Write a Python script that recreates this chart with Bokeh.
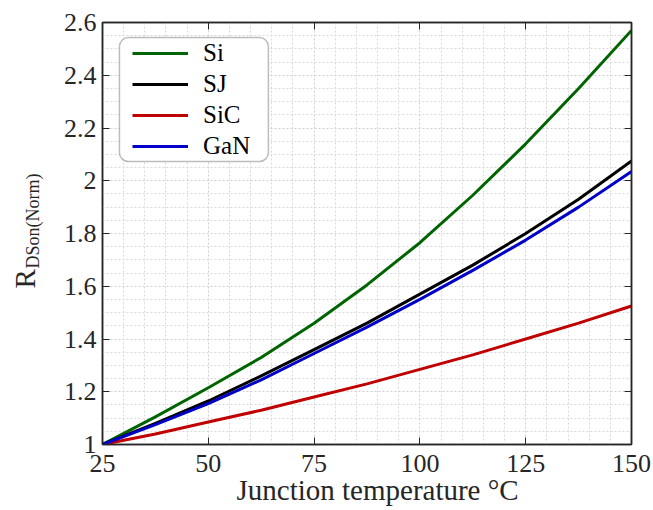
from bokeh.embed import file_html
from bokeh.models import (BoxAnnotation, CustomJSTickFormatter, FixedTicker, Legend,
                          LegendItem, LinearAxis, Range1d, Title)
from bokeh.plotting import figure
from bokeh.resources import INLINE

# Normalised on-resistance versus junction temperature
temperature_c = [25, 37.5, 50, 62.5, 75, 87.5, 100, 112.5, 125, 137.5, 150]
r_si = [1.00, 1.105, 1.215, 1.33, 1.46, 1.605, 1.765, 1.945, 2.14, 2.35, 2.57]
r_sj = [1.00, 1.08, 1.165, 1.26, 1.36, 1.46, 1.57, 1.68, 1.80, 1.93, 2.075]
r_sic = [1.00, 1.04, 1.085, 1.13, 1.18, 1.23, 1.285, 1.34, 1.40, 1.46, 1.525]
r_gan = [1.00, 1.075, 1.155, 1.245, 1.345, 1.445, 1.55, 1.66, 1.775, 1.90, 2.035]

series_names = ["Si", "SJ", "SiC", "GaN"]
series_colors = ["#006400", "#000000", "#c00000", "#0000c8"]

x_ticks = [25, 50, 75, 100, 125, 150]
x_minor_ticks = [30, 35, 40, 45, 55, 60, 65, 70, 80, 85, 90, 95,
                 105, 110, 115, 120, 130, 135, 140, 145]
y_ticks = [1.0, 1.2, 1.4, 1.6, 1.8, 2.0, 2.2, 2.4, 2.6]
y_minor_ticks = [1.05, 1.1, 1.15, 1.25, 1.3, 1.35, 1.45, 1.5, 1.55, 1.65, 1.7, 1.75,
                 1.85, 1.9, 1.95, 2.05, 2.1, 2.15, 2.25, 2.3, 2.35, 2.45, 2.5, 2.55]

FONT = "Liberation Serif"
INK = "#262626"

p = figure(width=653, height=510, output_backend="svg", toolbar_location=None,
           x_range=Range1d(25, 150), y_range=Range1d(1, 2.6),
           min_border_left=102, min_border_right=22,
           min_border_top=22, min_border_bottom=66,
           background_fill_color="white", border_fill_color="white")

bottom_axis = p.below[0]
left_axis = p.left[0]

x_ticker = FixedTicker(ticks=x_ticks, minor_ticks=x_minor_ticks)
y_ticker = FixedTicker(ticks=y_ticks, minor_ticks=y_minor_ticks)
bottom_axis.ticker = x_ticker
left_axis.ticker = y_ticker
left_axis.formatter = CustomJSTickFormatter(code="return String(Number(tick.toFixed(2)));")

# mirrored, unlabeled tick axes on top and right for a boxed frame
blank = CustomJSTickFormatter(code="return '';")
top_axis = LinearAxis(ticker=x_ticker, formatter=blank, major_label_text_font_size="1px")
right_axis = LinearAxis(ticker=y_ticker, formatter=blank, major_label_text_font_size="1px")
p.add_layout(top_axis, "above")
p.add_layout(right_axis, "right")

for ax in [bottom_axis, left_axis, top_axis, right_axis]:
    ax.major_tick_in = 7
    ax.major_tick_out = 0
    ax.minor_tick_in = 0
    ax.minor_tick_out = 0
    ax.axis_line_color = INK
    ax.axis_line_width = 1.5
    ax.major_tick_line_color = INK
    ax.major_tick_line_width = 1
    ax.major_label_text_font = FONT
    ax.major_label_text_color = INK

bottom_axis.major_label_text_font_size = "26px"
bottom_axis.major_label_standoff = 10
left_axis.major_label_text_font_size = "26px"
left_axis.major_label_standoff = 6
top_axis.major_label_standoff = 0
right_axis.major_label_standoff = 0

p.outline_line_color = INK
p.outline_line_width = 1.5

p.grid.grid_line_color = "#cfcfcf"
p.grid.grid_line_dash = "2 2"
p.grid.grid_line_width = 1
p.grid.minor_grid_line_color = "#d9d9d9"
p.grid.minor_grid_line_dash = "2 2"
p.grid.minor_grid_line_width = 1

renderers = []
for name, ys, color in zip(series_names, [r_si, r_sj, r_sic, r_gan], series_colors):
    r = p.line(temperature_c, ys, line_color=color, line_width=3, line_join="round")
    renderers.append(r)

# rounded legend frame
legend_box = BoxAnnotation(left=29.0, right=64.2, top=2.543, bottom=2.073,
                           fill_color="white", fill_alpha=1.0,
                           line_color=INK, line_width=1.5, border_radius=9)
p.add_layout(legend_box)

legend = Legend(items=[LegendItem(label=n, renderers=[r]) for n, r in zip(series_names, renderers)],
                location=(30, 283), padding=1, spacing=1, margin=0,
                label_height=30, glyph_height=30, glyph_width=56, label_standoff=15,
                label_text_font=FONT, label_text_font_size="25px", label_text_color="black",
                background_fill_alpha=0, border_line_color=None)
p.add_layout(legend)

# axis titles: x title below the tick labels, y title as "R" with a subscript
x_title = Title(text="Junction temperature °C", align="left", offset=134,
                vertical_align="top", standoff=-1,
                text_font=FONT, text_font_size="29px", text_font_style="normal",
                text_color=INK)
p.add_layout(x_title, "below")

sub_title = Title(text="DSon(Norm)", align="left", offset=176,
                  vertical_align="bottom", standoff=36,
                  text_font=FONT, text_font_size="18px", text_font_style="normal",
                  text_color=INK)
r_title = Title(text="R", align="left", offset=156,
                vertical_align="bottom", standoff=-76,
                text_font=FONT, text_font_size="29px", text_font_style="normal",
                text_color=INK)
p.add_layout(sub_title, "left")
p.add_layout(r_title, "left")

open("out.html", "w").write(file_html(p, INLINE))
